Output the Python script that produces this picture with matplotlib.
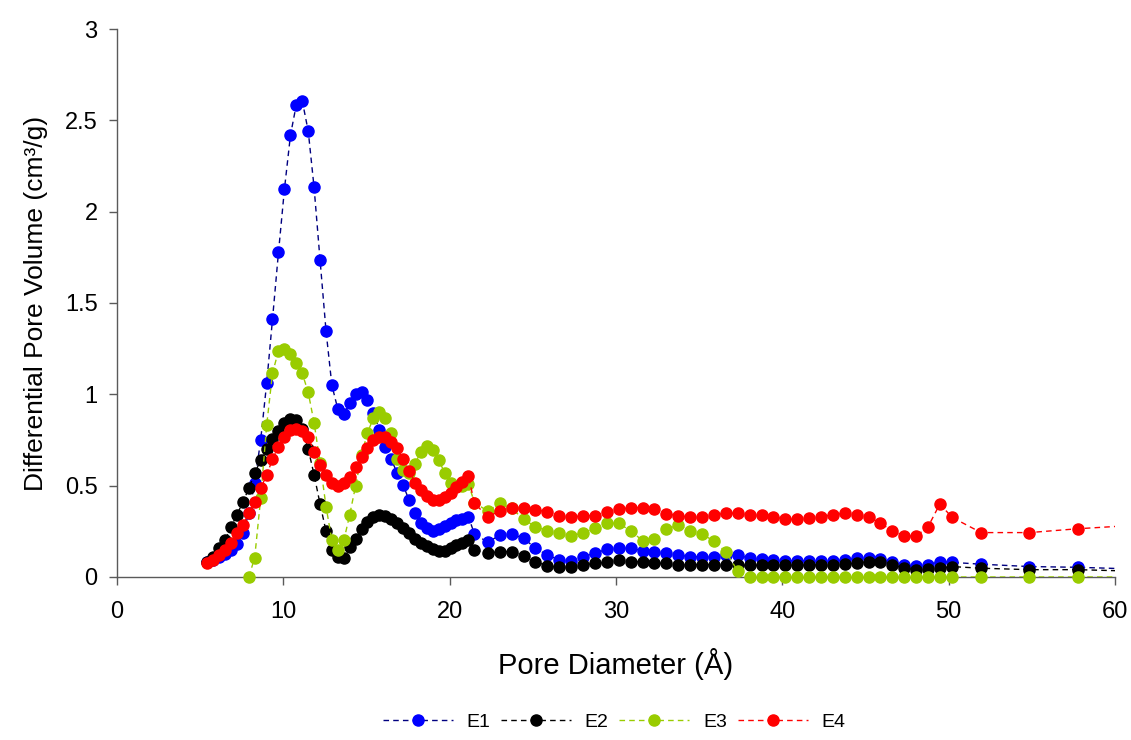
import numpy as np
import matplotlib
matplotlib.use("Agg")
import matplotlib.pyplot as plt
from matplotlib.lines import Line2D

plt.rcParams['font.family'] = ['Liberation Sans', 'DejaVu Sans']

# pore diameters (A): fine steps up to ~21.5, coarser after, then a few tail points
pore_d = [5.43, 5.79, 6.14, 6.50, 6.86, 7.21, 7.57, 7.93, 8.28, 8.64,
          9.00, 9.35, 9.71, 10.07, 10.43, 10.78, 11.14, 11.50, 11.85, 12.21,
          12.57, 12.92, 13.28, 13.64, 13.99, 14.35, 14.71, 15.06, 15.42, 15.78,
          16.13, 16.49, 16.85, 17.20, 17.56, 17.92, 18.27, 18.63, 18.99, 19.34,
          19.70, 20.06, 20.41, 20.77, 21.13, 21.49,
          22.30, 23.02, 23.73, 24.45, 25.16, 25.88, 26.59, 27.31, 28.02, 28.74,
          29.45, 30.17, 30.88, 31.60, 32.31, 33.03, 33.74, 34.46, 35.17, 35.89,
          36.60, 37.32, 38.03, 38.75, 39.46, 40.18, 40.89, 41.61, 42.32, 43.04,
          43.75, 44.47, 45.18, 45.90, 46.61, 47.33, 48.04, 48.76, 49.47, 50.19,
          51.95, 54.85, 57.75, 60.65]

e1 = [0.080, 0.095, 0.110, 0.128, 0.150, 0.180, 0.240, 0.350, 0.515, 0.750,
      1.060, 1.410, 1.777, 2.124, 2.418, 2.585, 2.607, 2.440, 2.133, 1.735,
      1.346, 1.050, 0.918, 0.892, 0.950, 1.000, 1.012, 0.969, 0.900, 0.805,
      0.710, 0.644, 0.568, 0.504, 0.421, 0.349, 0.294, 0.266, 0.253, 0.260,
      0.279, 0.297, 0.310, 0.315, 0.330, 0.235,
      0.190, 0.230, 0.235, 0.212, 0.157, 0.120, 0.093, 0.089, 0.111, 0.130,
      0.152, 0.157, 0.157, 0.144, 0.139, 0.130, 0.120, 0.111, 0.111, 0.107,
      0.120, 0.120, 0.102, 0.097, 0.093, 0.089, 0.089, 0.089, 0.089, 0.089,
      0.093, 0.102, 0.102, 0.097, 0.084, 0.066, 0.060, 0.066, 0.084, 0.080,
      0.070, 0.057, 0.053, 0.045]

e2 = [0.084, 0.110, 0.157, 0.200, 0.275, 0.340, 0.410, 0.485, 0.567, 0.640,
      0.700, 0.755, 0.800, 0.845, 0.866, 0.862, 0.810, 0.700, 0.560, 0.400,
      0.250, 0.148, 0.108, 0.105, 0.162, 0.208, 0.260, 0.303, 0.330, 0.337,
      0.335, 0.320, 0.295, 0.268, 0.239, 0.208, 0.185, 0.167, 0.152, 0.142,
      0.144, 0.158, 0.173, 0.188, 0.200, 0.148,
      0.130, 0.139, 0.139, 0.115, 0.084, 0.060, 0.053, 0.057, 0.066, 0.075,
      0.080, 0.093, 0.084, 0.084, 0.075, 0.075, 0.066, 0.068, 0.068, 0.068,
      0.066, 0.064, 0.064, 0.064, 0.064, 0.064, 0.064, 0.066, 0.066, 0.068,
      0.070, 0.077, 0.084, 0.084, 0.066, 0.048, 0.040, 0.044, 0.048, 0.057,
      0.048, 0.040, 0.040, 0.033]

e3 = [None, None, None, None, None, None, None, 0.000, 0.106, 0.430,
      0.830, 1.115, 1.239, 1.250, 1.220, 1.170, 1.115, 1.010, 0.845, 0.626,
      0.385, 0.200, 0.148, 0.200, 0.340, 0.500, 0.670, 0.790, 0.870, 0.905,
      0.870, 0.790, 0.644, 0.586, 0.567, 0.620, 0.686, 0.717, 0.695, 0.640,
      0.571, 0.516, 0.500, 0.500, 0.510, 0.407,
      0.360, 0.405, 0.375, 0.316, 0.275, 0.253, 0.239, 0.224, 0.243, 0.266,
      0.294, 0.294, 0.252, 0.199, 0.206, 0.261, 0.285, 0.253, 0.234, 0.197,
      0.137, 0.033, 0.000, 0.000, 0.000, 0.000, 0.000, 0.000, 0.000, 0.000,
      0.000, 0.000, 0.000, 0.000, 0.000, 0.000, 0.000, 0.000, 0.000, 0.000,
      0.000, 0.000, 0.000, 0.000]

e4 = [0.075, 0.093, 0.120, 0.148, 0.184, 0.239, 0.285, 0.349, 0.412, 0.485,
      0.558, 0.644, 0.713, 0.768, 0.805, 0.810, 0.800, 0.765, 0.686, 0.613,
      0.558, 0.516, 0.498, 0.513, 0.549, 0.600, 0.655, 0.708, 0.750, 0.768,
      0.765, 0.740, 0.704, 0.644, 0.582, 0.516, 0.476, 0.443, 0.421, 0.421,
      0.440, 0.461, 0.494, 0.522, 0.553, 0.403,
      0.330, 0.361, 0.380, 0.380, 0.367, 0.357, 0.334, 0.327, 0.336, 0.336,
      0.357, 0.370, 0.380, 0.380, 0.370, 0.345, 0.336, 0.327, 0.330, 0.340,
      0.349, 0.349, 0.340, 0.340, 0.330, 0.316, 0.316, 0.321, 0.330, 0.340,
      0.349, 0.340, 0.330, 0.294, 0.253, 0.224, 0.224, 0.275, 0.400, 0.327,
      0.243, 0.243, 0.264, 0.280]

series = [
    ('E1', e1, '#000080', '#0000FF'),
    ('E2', e2, '#000000', '#000000'),
    ('E3', e3, '#99CC00', '#99CC00'),
    ('E4', e4, '#FF0000', '#FF0000'),
]

fig = plt.figure(figsize=(11.31, 7.40), dpi=100)
ax = fig.add_axes([0.1034, 0.2203, 0.8825, 0.7405])

x = np.array(pore_d, dtype=float)
handles = []
for i, (name, vals, lcol, mcol) in enumerate(series):
    y = np.array(vals, dtype=float)
    ok = ~np.isnan(y)
    # dashed line, clipped to the plot area
    ax.plot(x[ok], y[ok], color=lcol, lw=1.0, dashes=(4, 3), zorder=2 + 2 * i)
    # markers not clipped at the axis, only those inside the x range
    inside = ok & (x <= 60)
    ax.plot(x[inside], y[inside], ls='none', marker='o', ms=8,
            mfc=mcol, mec=mcol, zorder=3 + 2 * i, clip_on=False)
    handles.append(Line2D([], [], color=lcol, lw=1.0, dashes=(4, 3),
                          marker='o', ms=8, mfc=mcol, mec=mcol, label=name))

ax.set_xlim(0, 60)
ax.set_ylim(0, 3)
ax.set_xticks(range(0, 61, 10))
ax.set_yticks([0, 0.5, 1, 1.5, 2, 2.5, 3])
ax.set_yticklabels(['0', '0.5', '1', '1.5', '2', '2.5', '3'])

for s in ['top', 'right']:
    ax.spines[s].set_visible(False)
for s in ['left', 'bottom']:
    ax.spines[s].set_color('#5a5a5a')
    ax.spines[s].set_linewidth(1.0)
ax.tick_params(axis='both', direction='out', length=6, width=1,
               color='#5a5a5a', labelsize=17)
ax.tick_params(axis='x', pad=11)
ax.tick_params(axis='y', pad=8)

ax.set_xlabel('Pore Diameter (Å)', fontsize=21, labelpad=18)
ax.set_ylabel('Differential Pore Volume (cm³/g)', fontsize=19, labelpad=12)

fig.legend(handles=handles, loc='center', bbox_to_anchor=(0.543, 0.024),
           ncol=4, frameon=False, fontsize=14, handlelength=3.6,
           handletextpad=0.7, columnspacing=0.55, numpoints=1)

fig.savefig('out.png', dpi=100)
